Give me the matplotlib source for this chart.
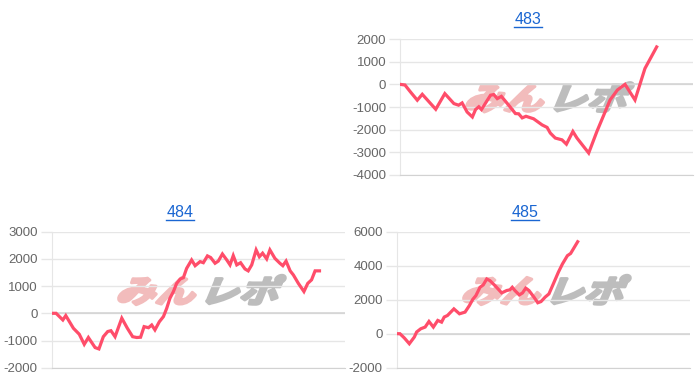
import matplotlib
matplotlib.use("Agg")
import matplotlib.pyplot as plt
from matplotlib.textpath import TextPath
from matplotlib.patches import PathPatch
from matplotlib.font_manager import FontProperties
from matplotlib.transforms import Affine2D
from matplotlib.lines import Line2D

# ---- data (x in % of the axis width, y = difference in medals) ----
x483 = [0, 1.7, 3.6, 5.9, 7.6, 12.2, 15.3, 18.4, 20.0, 21.2, 22.9, 24.7, 25.8, 26.9,
        27.8, 30.9, 32.0, 33.2, 34.6, 37.1, 39.4, 40.5, 41.7, 43.0, 45.6, 48.5, 50.2,
        51.3, 53.0, 55.3, 56.8, 59.0, 60.4, 64.4, 67.2, 71.7, 74.2, 76.8, 80.2, 83.6, 87.6]
y483 = [0, -30, -340, -700, -440, -1100, -410, -850, -920, -820, -1220, -1440, -1110, -990,
        -1110, -480, -450, -630, -530, -920, -1290, -1300, -1480, -1410, -1520, -1790, -1900,
        -2150, -2370, -2450, -2640, -2080, -2370, -3030, -2080, -690, -250, 0, -690, 700, 1650]

x484 = [0, 1.5, 3.8, 4.8, 7.4, 9.4, 11.1, 12.5, 14.8, 16.1, 17.6, 19.1, 20.2, 21.6, 23.9,
        25.8, 27.6, 29.0, 30.3, 31.5, 33.0, 34.1, 35.2, 36.7, 38.1, 39.2, 40.3, 41.5, 42.6,
        43.8, 44.9, 46.0, 47.7, 48.9, 50.6, 51.7, 53.1, 54.2, 55.7, 56.8, 58.2, 59.7, 60.8,
        61.9, 63.1, 64.4, 65.9, 67.0, 68.2, 69.7, 70.8, 71.9, 73.3, 74.4, 76.1, 77.8, 78.8,
        79.9, 81.3, 82.4, 84.1, 86.0, 87.3, 88.6, 89.8, 91.3]
y484 = [0, 0, -245, -85, -550, -770, -1140, -890, -1260, -1310, -860, -670, -640, -860, -180,
        -550, -860, -890, -880, -490, -530, -430, -610, -310, -120, 180, 550, 800, 1100,
        1260, 1310, 1650, 1960, 1750, 1900, 1860, 2110, 2050, 1840, 1920, 2180, 1960, 1780,
        2120, 1780, 1860, 1630, 1560, 1780, 2330, 2080, 2210, 2000, 2330, 2020, 1840, 1750,
        1920, 1560, 1410, 1100, 800, 1100, 1230, 1560, 1560]

x485 = [0, 1.1, 2.6, 4.3, 6.0, 6.8, 8.2, 9.7, 11.0, 12.5, 14.0, 15.3, 16.2, 17.3, 19.5,
        21.4, 23.3, 24.8, 25.9, 27.0, 28.4, 29.5, 30.7, 31.8, 33.5, 35.8, 37.5, 38.6, 39.4,
        40.3, 41.8, 42.9, 44.0, 45.1, 46.8, 48.1, 49.2, 50.6, 51.9, 53.4, 55.1, 56.5, 58.2,
        59.3, 61.7]
y485 = [0, 0, -250, -590, -200, 100, 290, 390, 720, 390, 780, 680, 980, 1070, 1460,
        1170, 1270, 1660, 2010, 2240, 2730, 2870, 3220, 3120, 2830, 2400, 2540, 2580, 2730,
        2540, 2280, 2400, 2680, 2540, 2150, 1820, 1890, 2150, 2340, 2930, 3610, 4100, 4590,
        4720, 5410]

titles = ["483", "484", "485"]
yticks483 = [-4000, -3000, -2000, -1000, 0, 1000, 2000]
yticks484 = [-2000, -1000, 0, 1000, 2000, 3000]
yticks485 = [-2000, 0, 2000, 4000, 6000]

LINE = "#ff4d6a"
GRID = "#e6e6e6"
LINK = "#1a66d2"

fig = plt.figure(figsize=(7.0, 3.82), dpi=100)
W, H = 700.0, 382.0


def watermark(ax):
    # site logo drawn faintly behind the line
    fp = FontProperties(family="Noto Sans CJK JP", weight="bold")
    for txt, col, x0 in [("みん", "#f2bcbc", 0.215), ("レポ", "#bdbdbd", 0.50)]:
        tp = TextPath((0, 0), txt, prop=fp, size=1)
        tr = Affine2D().skew_deg(18, 0).scale(0.135, 0.23).translate(x0, 0.48) + ax.transAxes
        ax.add_patch(PathPatch(tp, fc=col, ec=col, lw=2.2, joinstyle="round",
                               zorder=0.1, transform=tr))


def panel(rect, xs, ys, ticks, title, tx, ty):
    ax = fig.add_axes(rect)
    ax.set_axisbelow(True)
    watermark(ax)
    ax.plot(xs, ys, color=LINE, lw=2.3, solid_joinstyle="miter", zorder=3)
    ax.set_xlim(0, 100)
    ax.set_ylim(ticks[0], ticks[-1])
    ax.set_yticks(ticks)
    ax.set_yticklabels([str(t) for t in ticks])
    ax.set_xticks([])
    ax.grid(axis="y", color=GRID, lw=1)
    ax.axhline(0, color="#d2d2d2", lw=1.1, zorder=0.6)
    ax.tick_params(axis="y", length=8, width=1, color=GRID, pad=2,
                   labelsize=9.5, labelcolor="#666666")
    for lab in ax.get_yticklabels():
        lab.set_family("Liberation Sans")
    for s in ["top", "right"]:
        ax.spines[s].set_visible(False)
    ax.spines["left"].set_color(GRID)
    ax.spines["bottom"].set_color("#d2d2d2")
    # title as underlined link
    fig.text(tx / W, 1 - ty / H, title, color=LINK, fontsize=11.5, ha="center",
             va="baseline", family="Liberation Sans")
    fig.add_artist(Line2D([(tx - 14) / W, (tx + 14) / W],
                          [1 - (ty + 2.6) / H, 1 - (ty + 2.6) / H],
                          color=LINK, lw=1.0, transform=fig.transFigure))
    return ax


panel([400 / W, 1 - 175 / H, 293 / W, 136 / H], x483, y483, yticks483, titles[0], 528, 24)
panel([51.7 / W, 1 - 367.7 / H, 293.3 / W, 136 / H], x484, y484, yticks484, titles[1], 180, 217.5)
panel([396.7 / W, 1 - 367.7 / H, 293.3 / W, 136 / H], x485, y485, yticks485, titles[2], 525, 217.5)

fig.savefig("out.png", dpi=100)
